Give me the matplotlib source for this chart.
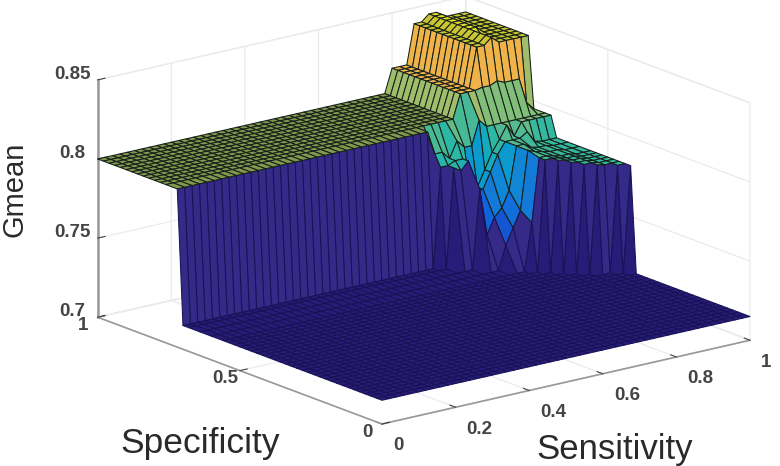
import numpy as np
import matplotlib
matplotlib.use("Agg")
import matplotlib.pyplot as plt
from matplotlib.colors import LinearSegmentedColormap, Normalize
from mpl_toolkits.mplot3d import proj3d

# ── Data ──────────────────────────────────────────────────────────────────────
SENS = [round(i * 0.02, 2) for i in range(51)]
# specificity rows: coarser through the band where the peak's long facets are
SPEC = [round(i * 0.02, 2) for i in range(29)] + [0.60, 0.64, 0.68, 0.70, 0.72, 0.76, 0.78] \
    + [round(0.80 + i * 0.02, 2) for i in range(11)]

FLOOR_Z = 0.715
PLATEAU_Z = 0.80
PLATEAU_START = 0.72   # specificity where the wall is, for sensitivity < 0.70

# sensitivity column -> (specificity from which it holds, Gmean) steps
COLUMNS = {
    0.70: [(0.70, 0.778), (0.72, 0.785), (0.76, 0.80)],
    0.72: [(0.68, 0.778), (0.72, 0.785), (0.76, 0.80)],
    0.74: [(0.68, 0.775), (0.70, 0.78), (0.76, 0.80)],
    0.76: [(0.64, 0.765), (0.68, 0.78), (0.72, 0.79), (0.76, 0.80)],
    0.78: [(0.64, 0.735), (0.68, 0.76), (0.72, 0.785), (0.76, 0.80)],
    0.80: [(0.60, 0.73), (0.64, 0.745), (0.68, 0.76), (0.72, 0.785), (0.76, 0.815)],
    0.82: [(0.60, 0.74), (0.64, 0.75), (0.68, 0.77), (0.72, 0.80), (0.76, 0.815)],
    0.84: [(0.56, 0.745), (0.60, 0.75), (0.64, 0.76), (0.68, 0.78), (0.72, 0.795), (0.76, 0.815)],
    0.86: [(0.54, 0.785), (0.60, 0.787), (0.72, 0.795), (0.76, 0.816), (0.78, 0.84)],
    0.88: [(0.52, 0.785), (0.64, 0.787), (0.70, 0.795), (0.76, 0.816), (0.78, 0.84)],
    0.90: [(0.50, 0.784), (0.68, 0.787), (0.72, 0.795), (0.76, 0.818), (0.78, 0.844)],
    0.92: [(0.48, 0.783), (0.68, 0.79), (0.70, 0.795), (0.76, 0.816), (0.78, 0.84), (0.86, 0.844)],
    0.94: [(0.46, 0.783), (0.70, 0.795), (0.76, 0.816), (0.78, 0.84)],
    0.96: [(0.45, 0.782), (0.70, 0.795), (0.76, 0.816), (0.78, 0.84)],
    0.98: [(0.43, 0.782), (0.70, 0.795), (0.76, 0.80), (0.78, 0.84)],
    1.00: [(0.42, 0.782), (0.70, 0.795), (0.78, 0.84)],
}

XTICKS = [0, 0.2, 0.4, 0.6, 0.8, 1]
XTICKLABELS = ["0", "0.2", "0.4", "0.6", "0.8", "1"]
YTICKS = [0, 0.5, 1]
YTICKLABELS = ["0", "0.5", "1"]
ZTICKS = [0.7, 0.75, 0.8, 0.85]
ZTICKLABELS = ["0.7", "0.75", "0.8", "0.85"]

# ── Colormap (parula look) ────────────────────────────────────────────────────
PARULA = LinearSegmentedColormap.from_list("parula_ish", [
    (0.00, "#352a87"), (0.13, "#0f5cdd"), (0.25, "#1481d6"), (0.38, "#06a4ca"),
    (0.50, "#2eb7a4"), (0.63, "#8fbf72"), (0.75, "#f0b24c"), (0.87, "#ecb83c"),
    (0.955, "#c9c433"), (1.00, "#f5e81e"),
])

plt.rcParams["font.family"] = ["Liberation Sans", "DejaVu Sans"]

# ── Build the surface ─────────────────────────────────────────────────────────
sens = np.array(SENS)
spec = np.array(SPEC)
Z = np.full((len(spec), len(sens)), FLOOR_Z)
for j, s in enumerate(SENS):
    for start, level in COLUMNS.get(s, [(PLATEAU_START, PLATEAU_Z)]):
        Z[spec >= start - 1e-9, j] = level

X, Y = np.meshgrid(sens, spec)
norm = Normalize(vmin=FLOOR_Z, vmax=0.846)
# MATLAB flat shading: each cell takes the colour of its lowest-index corner
low = Z[:-1, :-1]
colors = PARULA(norm(low))
# the flat plateau reads darker in the reference, its mesh is denser there
flat = (low == PLATEAU_Z) & (Z[1:, :-1] == PLATEAU_Z) & (X[:-1, :-1] < 0.78)
colors[flat, :3] *= np.array([0.82, 0.8, 0.72])

# floor and walls: navy faces with navy mesh, so the mesh stays quiet there
edges = np.tile(matplotlib.colors.to_rgba("#14201a"), (low.size, 1))
is_floor = (low == FLOOR_Z)
edges[is_floor.ravel()] = matplotlib.colors.to_rgba("#191255")
flat_floor = is_floor & (Z[1:, :-1] == FLOOR_Z) & (Z[:-1, 1:] == FLOOR_Z)
colors[flat_floor] = matplotlib.colors.to_rgba("#271c78")

# ── Plot ──────────────────────────────────────────────────────────────────────
W, H = 780, 466
fig = plt.figure(figsize=(W / 100, H / 100), dpi=100)
ax = fig.add_axes([0, 0, 1, 1], projection="3d")
ax.set_proj_type("ortho")
ax.view_init(elev=17, azim=-127.9)
ax.set_xlim(0, 1, view_margin=0)
ax.set_ylim(0, 1, view_margin=0)
ax.set_zlim(0.7, 0.85, view_margin=0)
ax.set_box_aspect((466, 462.5, 248))

surf = ax.plot_surface(X, Y, Z, rstride=1, cstride=1, facecolors=colors,
                       shade=False, linewidth=0.75)
surf.set_edgecolor(edges)

ax.set_xticks(XTICKS, XTICKLABELS)
ax.set_yticks(YTICKS, YTICKLABELS)
ax.set_zticks(ZTICKS, ZTICKLABELS)

for axis in (ax.xaxis, ax.yaxis, ax.zaxis):
    axis.set_pane_color((1, 1, 1, 1))
    axis.pane.set_edgecolor("#ececec")
    axis.line.set_color("#999999")
    axis.line.set_linewidth(1.2)
    axis._axinfo["grid"].update(color="#ebebeb", linewidth=0.9)
    axis._axinfo["tick"].update(inward_factor=0.0, outward_factor=0.25)
ax.zaxis.line.set_linewidth(1.8)
ax.tick_params(colors="#444444", labelsize=13.5, pad=2)
for lab in ax.get_xticklabels() + ax.get_yticklabels() + ax.get_zticklabels():
    lab.set_fontweight("bold")
for lab in ax.get_xticklabels():
    lab.set_ha("left")
for lab in ax.get_yticklabels() + ax.get_zticklabels():
    lab.set_va("baseline")


def corner_px(x, y, z):
    px, py, _ = proj3d.proj_transform(x, y, z, ax.get_proj())
    return ax.transData.transform((px, py))


# Size and place the square axes so the box corners land where they should
ax.set_position([0.25, 0.1, 400 / W, 400 / H])
ax.apply_aspect()
scale = 368 / (corner_px(1, 0, 0.7)[0] - corner_px(0, 0, 0.7)[0])
size = 400 * scale
ax.set_position([0.1, 0.1, size / W, size / H])
ax.apply_aspect()
front = corner_px(0, 0, 0.7)
dx, dy = 382 - front[0], (H - 424) - front[1]
ax.set_position([0.1 + dx / W, 0.1 + dy / H, size / W, size / H])

fig.text(200 / W, 1 - 443 / H, "Specificity", fontsize=25.5, color="#2a2a2a", ha="center", va="center")
fig.text(615 / W, 1 - 449 / H, "Sensitivity", fontsize=25, color="#2a2a2a", ha="center", va="center")
fig.text(15 / W, 1 - 189 / H, "Gmean", fontsize=21, color="#2a2a2a", ha="center", va="center", rotation=90)

fig.savefig("out.png", dpi=100)
